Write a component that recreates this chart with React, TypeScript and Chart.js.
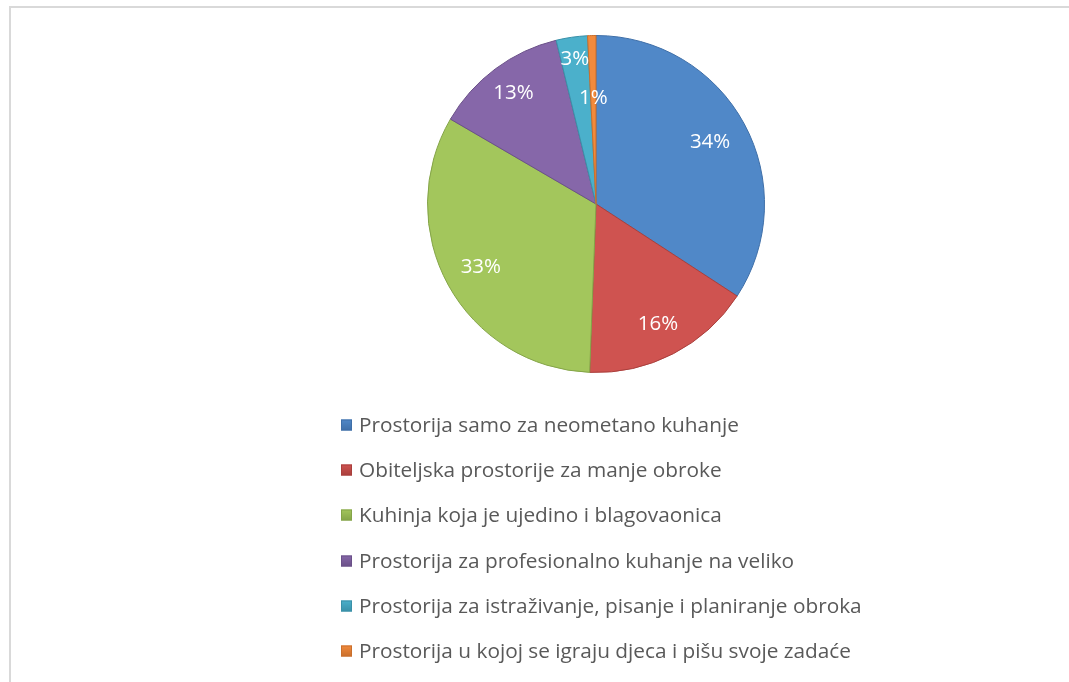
import React, { useEffect, useRef } from "react";
import { Chart, registerables } from "chart.js";

Chart.register(...registerables);

const categories: string[] = [
  "Prostorija samo za neometano kuhanje",
  "Obiteljska prostorije za manje obroke",
  "Kuhinja koja je ujedino i blagovaonica",
  "Prostorija za profesionalno kuhanje na veliko",
  "Prostorija za istraživanje, pisanje i planiranje obroka",
  "Prostorija u kojoj se igraju djeca i pišu svoje zadaće",
];

const shares: number[] = [34.2, 16.4, 32.8, 12.8, 3.0, 0.8];

const sliceColors: string[] = ["#5088c8", "#cf5350", "#a3c65c", "#8667a9", "#4bb0cb", "#f28a3c"];
const sliceEdges: string[] = ["#3f6fa8", "#a93f3c", "#84a448", "#6a5088", "#3a90a8", "#c96f2c"];

const FONT = '"Open Sans", sans-serif';

const labelRadius = [0.77, 0.8, 0.78, 0.82, 0.87, 0.63];

const overlayPlugin = {
  id: "overlay",
  afterDatasetsDraw(chart: any) {
    const ctx = chart.ctx;
    const meta = chart.getDatasetMeta(0);
    const data = chart.data.datasets[0].data as number[];
    const total = data.reduce((a, b) => a + b, 0);
    ctx.save();
    ctx.fillStyle = "#ffffff";
    ctx.font = `20.5px ${FONT}`;
    ctx.textAlign = "center";
    ctx.textBaseline = "middle";
    meta.data.forEach((arc: any, i: number) => {
      const p = arc.getProps(["x", "y", "startAngle", "endAngle", "outerRadius"], true);
      const mid = (p.startAngle + p.endAngle) / 2;
      const r = p.outerRadius * labelRadius[i];
      const txt = Math.round((data[i] / total) * 100) + "%";
      ctx.fillText(txt, p.x + Math.cos(mid) * r, p.y + Math.sin(mid) * r);
    });

    // legend
    const labels = chart.data.labels as string[];
    const colors = chart.data.datasets[0].backgroundColor as string[];
    const edges = chart.data.datasets[0].borderColor as string[];
    ctx.font = `20.8px ${FONT}`;
    ctx.textAlign = "left";
    const box = 11;
    const gap = 7;
    let maxW = 0;
    labels.forEach((l) => (maxW = Math.max(maxW, ctx.measureText(l).width)));
    const blockW = box + gap + maxW;
    const cx = meta.data[0].x;
    const x0 = Math.round(cx - blockW / 2 + 5);
    const y0 = chart.chartArea.bottom + 52;
    const rowH = 45.2;
    labels.forEach((l, i) => {
      const y = Math.round(y0 + i * rowH);
      const g = ctx.createLinearGradient(0, y - box / 2, 0, y + box / 2);
      g.addColorStop(0, colors[i]);
      g.addColorStop(1, edges[i]);
      ctx.fillStyle = g;
      ctx.fillRect(x0, y - box / 2, box, box);
      ctx.strokeStyle = edges[i];
      ctx.lineWidth = 1;
      ctx.strokeRect(x0 + 0.5, y - box / 2 + 0.5, box - 1, box - 1);
      ctx.fillStyle = "#595959";
      ctx.fillText(l, x0 + box + gap, y + 1);
    });
    ctx.restore();
  },
};

export default function App() {
  const ref = useRef<HTMLCanvasElement>(null);
  useEffect(() => {
    if (!ref.current) return;
    const chart = new Chart(ref.current, {
      type: "pie",
      data: {
        labels: categories,
        datasets: [
          {
            data: shares,
            backgroundColor: sliceColors,
            borderColor: sliceEdges,
            borderWidth: 1,
          },
        ],
      },
      options: {
        responsive: false,
        animation: false,
        layout: { padding: { top: 27, bottom: 309, left: 112, right: 0 } },
        plugins: {
          legend: { display: false },
          tooltip: { enabled: false },
        },
      },
      plugins: [overlayPlugin],
    });
    return () => chart.destroy();
  }, []);
  return (
    <div
      style={{
        position: "absolute",
        left: 9,
        top: 6,
        width: 1060,
        height: 676,
        borderTop: "2px solid #d9d9d9",
        borderLeft: "2px solid #d9d9d9",
        boxSizing: "border-box",
        background: "#fff",
      }}
    >
      <canvas ref={ref} width={1058} height={674} style={{ display: "block" }} />
    </div>
  );
}
